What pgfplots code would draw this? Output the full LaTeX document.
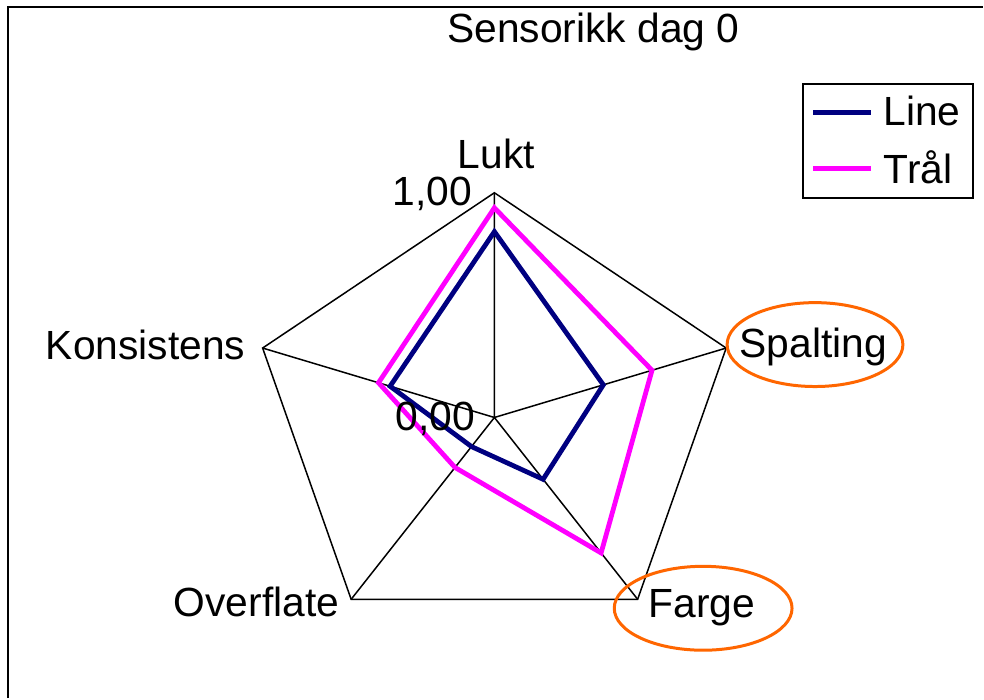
\documentclass[border=0pt]{standalone}
\usepackage{fontspec}
\setmainfont{Liberation Sans}
\usepackage{pgfplots}
\pgfplotsset{compat=1.18}
\usepackage{pgfplotstable}
\definecolor{navyline}{RGB}{0,0,128}
\definecolor{magline}{RGB}{255,0,255}
\definecolor{ringorange}{RGB}{255,102,0}
\newcommand\cf{\fontsize{20.4}{24}\selectfont}

\pgfplotstableread{
a line tral
0 0.827 0.933
72 0.47 0.68
144 0.34 0.745
216 0.16 0.275
288 0.45 0.50
}\sensdata

\pgfplotstableread{
a r
0 1
72 1
144 1
216 1
288 1
}\gridweb

\pgfplotstableread{
a r
0 1
0 0
72 1
72 0
144 1
144 0
216 1
216 0
288 1
}\spokes

\begin{document}
\begin{tikzpicture}
\begin{scope}[x=0.5pt,y=-0.5pt]
\useasboundingbox (0,0) rectangle (984,699);
\end{scope}
\begin{axis}[at={(247.5pt,-209pt)}, anchor=origin, hide axis,
  x=122pt, y=112.5pt, xmin=-1.1, xmax=1.1, ymin=-1.1, ymax=1.1, clip=false,
  legend style={at={(1.0736,1.1768)}, anchor=north west, draw=black, line width=1pt,
    font=\cf, inner xsep=4pt, inner ysep=4pt, nodes={inner sep=2pt}, row sep=7pt,
    /tikz/every odd column/.append style={column sep=3pt}},
  legend image code/.code={\draw[#1] (0pt,0pt) -- (29pt,0pt);},
  legend cell align=left]
\addplot[black, line width=0.75pt, forget plot] table[x expr={\thisrow{r}*sin(\thisrow{a})}, y expr={\thisrow{r}*cos(\thisrow{a})}] {\gridweb} -- cycle;
\addplot[black, line width=0.75pt, forget plot, line join=round] table[x expr={\thisrow{r}*sin(\thisrow{a})}, y expr={\thisrow{r}*cos(\thisrow{a})}] {\spokes};
\addplot[navyline, line width=2.4pt, line join=miter] table[x expr={\thisrow{line}*sin(\thisrow{a})}, y expr={\thisrow{line}*cos(\thisrow{a})}] {\sensdata} -- cycle;
\addplot[magline, line width=2.4pt, line join=miter] table[x expr={\thisrow{tral}*sin(\thisrow{a})}, y expr={\thisrow{tral}*cos(\thisrow{a})}] {\sensdata} -- cycle;
\legend{Line, Trål}
\end{axis}
\begin{scope}[x=0.5pt,y=-0.5pt]
\draw[line width=1.2pt] (8,699) -- (8,7) -- (984,7);
\node[font=\cf, anchor=base, inner sep=0pt] at (594,43) {Sensorikk dag 0};
\node[font=\cf, anchor=base, inner sep=0pt] at (497,169) {Lukt};
\node[font=\cf, anchor=base west, inner sep=0pt] at (740,358) {Spalting};
\node[font=\cf, anchor=base west, inner sep=0pt] at (649,618) {Farge};
\node[font=\cf, anchor=base east, inner sep=0pt] at (340,617) {Overflate};
\node[font=\cf, anchor=base east, inner sep=0pt] at (246,360) {Konsistens};
\node[font=\cf, anchor=base east, inner sep=0pt] at (473,206) {1,00};
\node[font=\cf, anchor=base east, inner sep=0pt] at (476,431) {0,00};
\draw[ringorange, line width=1.5pt] (816,345) ellipse [x radius=88, y radius=42];
\draw[ringorange, line width=1.5pt] (704,609) ellipse [x radius=89, y radius=42];
\end{scope}
\end{tikzpicture}
\end{document}
